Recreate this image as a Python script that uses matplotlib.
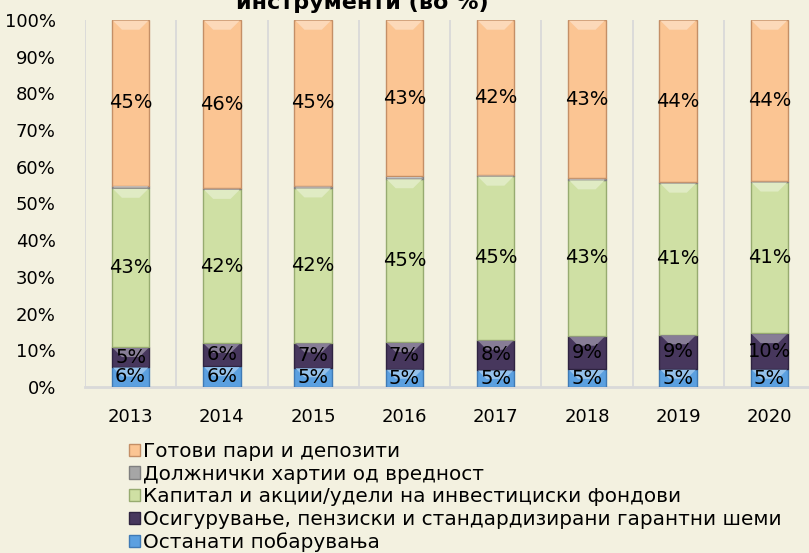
import numpy as np
import matplotlib.pyplot as plt
from matplotlib.patches import Patch, Polygon
from matplotlib.colors import to_rgb

years = ['2013', '2014', '2015', '2016', '2017', '2018', '2019', '2020']

# shares in % (stacked bottom -> top)
other = [5.5, 5.6, 5.3, 4.9, 4.7, 4.8, 4.9, 4.9]
insurance = [5.3, 6.3, 6.8, 7.3, 8.1, 9.1, 9.4, 9.7]
equity = [43.4, 42.0, 42.2, 44.6, 44.7, 42.6, 41.3, 41.3]
debt = [0.7, 0.3, 0.5, 0.6, 0.3, 0.4, 0.2, 0.2]
cash = [45.1, 45.8, 45.2, 42.6, 42.2, 43.1, 44.2, 43.9]

names = ['Останати побарувања',
         'Осигурување, пензиски и стандардизирани гарантни шеми',
         'Капитал и акции/удели на инвестициски фондови',
         'Должнички хартии од вредност',
         'Готови пари и депозити']
colors = ['#5BA0E0', '#47375D', '#CFE0A4', '#A6A6A6', '#FBC593']
edges = ['#3F7AB5', '#2E2340', '#97AB70', '#7F7F7F', '#C48F66']
show_label = [True, True, True, False, True]

bg = '#F3F1E0'
plt.rcParams['font.family'] = 'DejaVu Sans'


def lighter(c, f):
    r = np.array(to_rgb(c))
    return tuple(r + (1 - r) * f)


fig = plt.figure(figsize=(8.09, 5.53), dpi=100, facecolor=bg)
ax = fig.add_axes([85 / 809, 1 - 387 / 553, 730 / 809, 367 / 553])
ax.set_facecolor(bg)

series = [other, insurance, equity, debt, cash]
data = np.array(series, dtype=float)
data = data / data.sum(axis=0)
x = np.arange(len(years))
width = 0.41

# pixel -> data unit helpers for the bevel highlight
px_y = 1 / 367
px_x = 1 / 91.3

bottom = np.zeros(len(years))
for i, vals in enumerate(data):
    ax.bar(x, vals, width, bottom=bottom, color=colors[i],
           edgecolor=edges[i], linewidth=1.0, zorder=3)
    for xi, v, b in zip(x, vals, bottom):
        h = min(9 * px_y, v / 2)
        d = min(h / px_y, 9) * px_x
        top = b + v - 0.7 * px_y
        hl = Polygon([(xi - width / 2 + px_x, top), (xi + width / 2 - px_x, top),
                      (xi + width / 2 - px_x - d, top - h),
                      (xi - width / 2 + px_x + d, top - h)],
                     closed=True, facecolor=lighter(colors[i], 0.35),
                     edgecolor='none', zorder=4)
        ax.add_patch(hl)
    if show_label[i]:
        for xi, v, b in zip(x, vals, bottom):
            ax.text(xi, b + v / 2, '{:.0f}%'.format(v * 100),
                    ha='center', va='center', fontsize=14, color='black',
                    zorder=5)
    bottom += vals

ax.set_xlim(-0.5, len(years) - 0.5)
ax.set_ylim(0, 1)
ax.set_yticks(np.arange(0, 1.01, 0.1))
ax.set_yticklabels(['{:.0f}%'.format(v * 100) for v in np.arange(0, 1.01, 0.1)])
ax.set_xticks(x)
ax.set_xticklabels(years)
ax.tick_params(axis='both', length=0, labelsize=13)
ax.tick_params(axis='y', pad=21)
ax.tick_params(axis='x', pad=15)

for xb in np.arange(-0.5, len(years), 1.0):
    ax.axvline(xb, color='#D9D9D9', linewidth=1.3, zorder=1)
for s in ['top', 'right', 'left']:
    ax.spines[s].set_visible(False)
ax.spines['bottom'].set_color('#D9D9D9')
ax.spines['bottom'].set_linewidth(2)

fig.text(362 / 809, 1 - 9 / 553, 'инструменти (во %)', ha='center',
         va='baseline', fontsize=16, fontweight='bold')

handles = [Patch(facecolor=colors[i], edgecolor=edges[i], label=names[i])
           for i in range(len(names) - 1, -1, -1)]
fig.legend(handles=handles, loc='upper left',
           bbox_to_anchor=(129 / 809, 1 - 442 / 553), frameon=False,
           fontsize=14.4, handlelength=0.55, handleheight=0.55,
           handletextpad=0.15, labelspacing=0.18, borderpad=0,
           borderaxespad=0)

fig.savefig('out.png', dpi=100, facecolor=bg)
